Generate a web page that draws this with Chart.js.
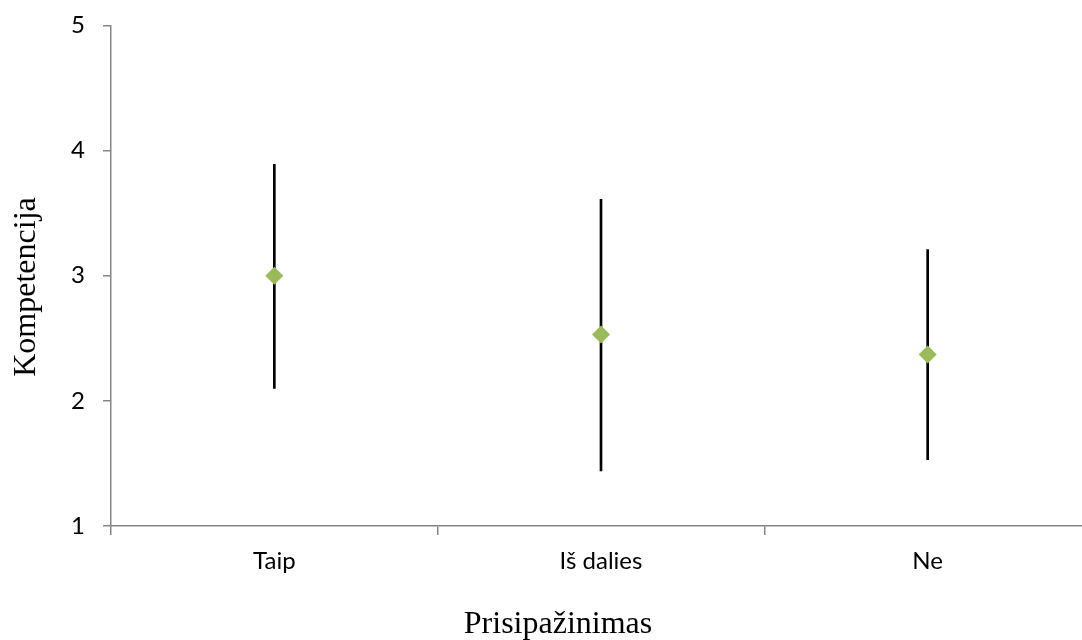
<!DOCTYPE html>
<html>
<head>
<meta charset="utf-8">
<script src="https://cdn.jsdelivr.net/npm/chart.js@4.4.1/dist/chart.umd.min.js"></script>
<style>
  html, body { margin: 0; padding: 0; background: #fff; overflow: hidden; }
  canvas { display: block; }
</style>
</head>
<body>
<canvas id="chart" width="1091" height="640"></canvas>
<script>
// datos
const categories = ['Taip', 'Iš dalies', 'Ne'];
const means = [3.0, 2.53, 2.37];
const lower = [2.10, 1.44, 1.53];
const upper = [3.89, 3.61, 3.21];
const yTicks = [1, 2, 3, 4, 5];

const axisGray = '#868686';
const tickFont = { family: 'Lato', size: 24 };
const titleFont = '32px "Liberation Serif"';

// titulos de los ejes, colocados como en el original (no centrados)
const axisTitles = {
    id: 'axisTitles',
    afterDraw(chart) {
        const c = chart.ctx;
        c.save();
        c.fillStyle = '#000';
        c.font = titleFont;
        c.textAlign = 'center';
        c.textBaseline = 'alphabetic';
        c.fillText('Prisipažinimas', 558, 633);
        c.translate(35, 287);
        c.rotate(-Math.PI / 2);
        c.fillText('Kompetencija', 0, 0);
        c.restore();
    }
};

const ctx = document.getElementById('chart');

new Chart(ctx, {
    type: 'bar',
    data: {
        labels: categories,
        datasets: [
            {
                type: 'line',
                label: 'Vidurkis',
                data: means,
                showLine: false,
                pointStyle: 'rectRot',
                pointRadius: 9,
                pointHoverRadius: 9,
                backgroundColor: '#9BBB59',
                borderColor: '#9BBB59',
                borderWidth: 0,
                order: 0
            },
            {
                label: 'Intervalas',
                data: categories.map((c, i) => [lower[i], upper[i]]),
                backgroundColor: '#000',
                borderWidth: 0,
                barThickness: 2,
                order: 1
            }
        ]
    },
    options: {
        responsive: false,
        animation: false,
        layout: { autoPadding: false, padding: { top: 25.5, right: 0, bottom: 0, left: 0 } },
        plugins: {
            legend: { display: false },
            tooltip: { enabled: false }
        },
        scales: {
            x: {
                offset: true,
                grid: {
                    offset: true,
                    drawOnChartArea: false,
                    drawTicks: true,
                    tickLength: 9,
                    color: axisGray,
                    lineWidth: 1.5
                },
                border: { color: axisGray, width: 1.5 },
                ticks: { color: '#000', font: tickFont, padding: 12 },
                afterFit(scale) { scale.height = 114; }
            },
            y: {
                min: 1,
                max: 5,
                afterBuildTicks(scale) { scale.ticks = yTicks.map(v => ({ value: v })); },
                grid: {
                    drawOnChartArea: false,
                    drawTicks: true,
                    tickLength: 8,
                    color: axisGray,
                    lineWidth: 1.5
                },
                border: { color: axisGray, width: 1.5 },
                ticks: { color: '#000', font: tickFont, padding: 18 },
                afterFit(scale) {
                    scale.width = 111;
                    scale.paddingTop = 0;
                    scale.paddingBottom = 0;
                }
            }
        }
    },
    plugins: [axisTitles]
});
</script>
</body>
</html>
